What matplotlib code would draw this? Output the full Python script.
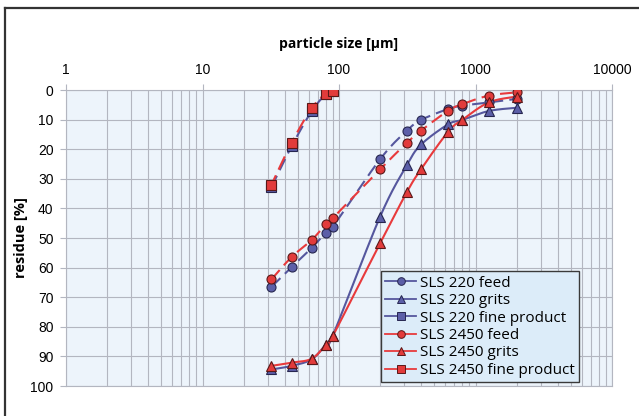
import numpy as np
import matplotlib
matplotlib.use("Agg")
import matplotlib.pyplot as plt
from matplotlib.lines import Line2D
from matplotlib.ticker import FixedLocator, LogLocator, NullFormatter

# Datos
sizes = [32, 45, 63, 80, 90, 200, 315, 400, 630, 800, 1250, 2000]
sizes_fine = [32, 45, 63, 80, 90]

sls220_feed = [66.5, 59.8, 53.4, 48.2, 46.2, 23.4, 13.7, 10.1, 6.4, 5.3, 4.2, 3.0]
sls220_grits = [94.4, 93.2, 91.0, 86.0, 83.0, 42.8, 25.3, 18.4, 11.6, 10.1, 7.1, 6.0]
sls220_fine = [32.8, 19.0, 7.2, 1.5, 0.5]

sls2450_feed = [64.0, 56.4, 50.7, 45.4, 43.3, 26.8, 17.8, 13.7, 7.0, 4.8, 1.9, 0.8]
sls2450_grits = [93.2, 92.1, 90.8, 86.1, 83.1, 51.8, 34.4, 26.7, 14.1, 10.1, 4.2, 2.2]
sls2450_fine = [32.0, 17.8, 6.2, 1.2, 0.3]

x_ticks = [1, 10, 100, 1000, 10000]
y_ticks = [0, 10, 20, 30, 40, 50, 60, 70, 80, 90, 100]

blue = '#55579e'
blue_face = '#5c5fa8'
blue_edge = '#262650'
red = '#e83a3c'
red_face = '#e23b3b'
red_edge = '#5a1818'

title_font = ['Open Sans', 'DejaVu Sans']


def smooth(xs, ys, n=25):
    # linea suavizada (tipo Excel) en escala log
    P = np.column_stack([np.log10(xs), ys])
    P = np.vstack([P[0], P, P[-1]])
    t = np.linspace(0, 1, n)[:, None]
    segs = []
    for i in range(1, len(P) - 2):
        p0, p1, p2, p3 = P[i - 1], P[i], P[i + 1], P[i + 2]
        seg = 0.5 * (2 * p1 + (-p0 + p2) * t + (2 * p0 - 5 * p1 + 4 * p2 - p3) * t ** 2
                     + (-p0 + 3 * p1 - 3 * p2 + p3) * t ** 3)
        segs.append(seg)
    pts = np.vstack(segs)
    return 10 ** pts[:, 0], pts[:, 1]


fig = plt.figure(figsize=(6.39, 4.16), dpi=100)
ax = fig.add_axes([66 / 639, 1 - 386 / 416, 546 / 639, 296 / 416])
ax.set_facecolor('#edf4fb')

series = [
    (sizes, sls220_feed, blue, blue_face, blue_edge, 'o', (0, (6, 3)), 'SLS 220 feed'),
    (sizes, sls220_grits, blue, blue_face, blue_edge, '^', '-', 'SLS 220 grits'),
    (sizes_fine, sls220_fine, blue, blue_face, blue_edge, 's', (0, (6, 3)), 'SLS 220 fine product'),
    (sizes, sls2450_feed, red, red_face, red_edge, 'o', (0, (6, 3)), 'SLS 2450 feed'),
    (sizes, sls2450_grits, red, red_face, red_edge, '^', '-', 'SLS 2450 grits'),
    (sizes_fine, sls2450_fine, red, red_face, red_edge, 's', (2, (7, 3)), 'SLS 2450 fine product'),
]

handles = []
for xs, ys, lc, fc, ec, mk, ls, lab in series:
    sx, sy = smooth(xs, ys)
    ax.plot(sx, sy, color=lc, lw=1.5, ls=ls, zorder=3)
    ax.plot(xs, ys, ls='none', marker=mk, ms=6.5, mfc=fc, mec=ec, mew=0.8, zorder=4)
    handles.append(Line2D([], [], color=lc, lw=1.3, marker=mk, ms=5.5,
                          mfc=fc, mec=ec, mew=0.7, label=lab))

ax.set_xscale('log')
ax.set_xlim(1, 10000)
ax.set_ylim(100, 0)
ax.xaxis.tick_top()
ax.xaxis.set_label_position('top')
ax.xaxis.set_major_locator(FixedLocator(x_ticks))
ax.set_xticklabels([str(v) for v in x_ticks])
ax.xaxis.set_minor_locator(LogLocator(base=10, subs=np.arange(2, 10)))
ax.xaxis.set_minor_formatter(NullFormatter())
ax.set_yticks(y_ticks)

ax.grid(True, which='both', axis='x', color='#b3b6c0', lw=0.8)
ax.grid(True, which='major', axis='y', color='#b3b6c0', lw=0.8)
ax.set_axisbelow(True)
ax.tick_params(axis='both', which='major', length=4, color='#b3b6c0',
               labelsize=10, pad=5)
ax.tick_params(axis='x', which='minor', length=0)
for lbl in ax.get_xticklabels() + ax.get_yticklabels():
    lbl.set_family(['Liberation Sans', 'DejaVu Sans'])
for sp in ax.spines.values():
    sp.set_color('#b3b6c0')
    sp.set_linewidth(0.8)

ax.set_xlabel('particle size [µm]', family=title_font, fontweight='bold',
              fontsize=10, labelpad=11)
ax.set_ylabel('residue [%]', family=title_font, fontweight='bold',
              fontsize=10.5, labelpad=2)

leg = ax.legend(handles=handles, loc='lower right', bbox_to_anchor=(0.94, 0.012),
                prop={'family': title_font, 'size': 11}, frameon=True,
                fancybox=False, handlelength=2.0, handletextpad=0.25,
                labelspacing=0.16, borderpad=0.3, borderaxespad=0)
leg.get_frame().set_facecolor('#dcecf9')
leg.get_frame().set_edgecolor('#3a3a3a')
leg.get_frame().set_linewidth(1.0)
leg.get_frame().set_alpha(1)

# marco exterior
fig.add_artist(Line2D([5 / 639, 1], [1 - 8 / 416, 1 - 8 / 416], color='#333333', lw=1.6))
fig.add_artist(Line2D([5 / 639, 5 / 639], [0, 1 - 8 / 416], color='#333333', lw=1.6))

plt.savefig('out.png', dpi=100)
